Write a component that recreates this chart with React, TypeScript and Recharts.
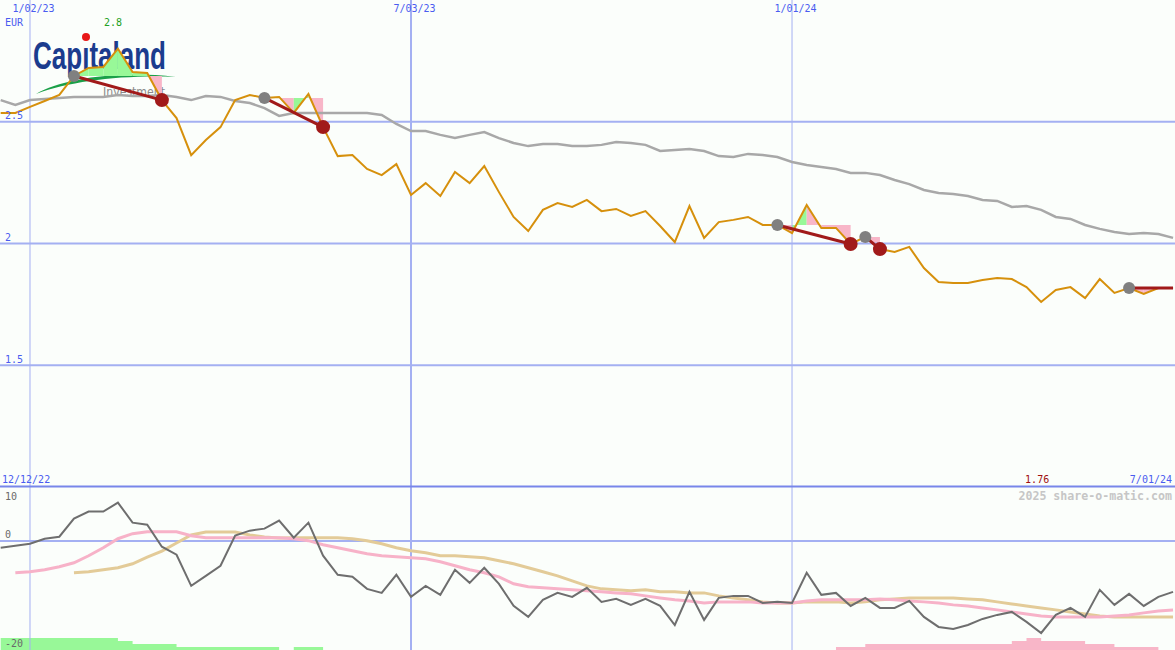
import React from 'react';
import { ComposedChart, Line, Area, XAxis, YAxis, ReferenceLine } from 'recharts';

// weekly closes (EUR), 12/19/22 .. 7/01/24
const startDate = '12/12/22';
const endDate = '7/01/24';
const currency = 'EUR';
const watermark = '2025 share-o-matic.com';

const dateTicks = [2, 28, 54];
const dateLabels = ['1/02/23', '7/03/23', '1/01/24'];
const priceTicks = [2.5, 2, 1.5];
const oscTicks = [10, 0, -20];

const price = [
  2.536, 2.536, 2.561, 2.585, 2.61, 2.688, 2.721, 2.725, 2.8, 2.704,
  2.7, 2.589, 2.515, 2.363, 2.425, 2.478, 2.589, 2.61, 2.598, 2.602,
  2.536, 2.614, 2.478, 2.359, 2.363, 2.306, 2.281, 2.326, 2.199, 2.248,
  2.195, 2.294, 2.248, 2.318, 2.211, 2.109, 2.051, 2.138, 2.166, 2.15,
  2.179, 2.133, 2.142, 2.113, 2.133, 2.072, 2.006, 2.154, 2.023, 2.088,
  2.097, 2.109, 2.076, 2.076, 2.043, 2.158, 2.064, 2.064, 1.998, 2.027,
  1.977, 1.965, 1.986, 1.899, 1.842, 1.838, 1.838, 1.85, 1.858, 1.854,
  1.821, 1.76, 1.809, 1.821, 1.776, 1.854, 1.797, 1.817, 1.793, 1.817,
  1.817,
];

const movingAvg = [
  2.589, 2.569, 2.589, 2.593, 2.598, 2.602, 2.602, 2.602, 2.61, 2.606,
  2.606, 2.61, 2.602, 2.589, 2.606, 2.602, 2.585, 2.577, 2.556, 2.524,
  2.536, 2.536, 2.536, 2.536, 2.536, 2.536, 2.528, 2.491, 2.462, 2.462,
  2.446, 2.433, 2.446, 2.458, 2.433, 2.413, 2.4, 2.409, 2.409, 2.4,
  2.4, 2.405, 2.417, 2.413, 2.405, 2.38, 2.384, 2.388, 2.38, 2.359,
  2.355, 2.368, 2.363, 2.355, 2.335, 2.322, 2.314, 2.306, 2.29, 2.29,
  2.281, 2.261, 2.244, 2.22, 2.207, 2.203, 2.195, 2.179, 2.175, 2.15,
  2.154, 2.138, 2.109, 2.101, 2.076, 2.06, 2.047, 2.039, 2.043, 2.039,
  2.023,
];

const momentum = [
  -1.23, -0.87, -0.5, 0.42, 0.79, 4.1, 5.39, 5.39, 7.05, 3.37,
  3.0, -1.05, -2.52, -8.23, -6.39, -4.55, 0.98, 1.9, 2.27, 3.74,
  0.61, 3.37, -2.7, -6.2, -6.57, -8.78, -9.52, -6.2, -10.25, -8.23,
  -9.88, -5.28, -7.68, -4.92, -7.86, -11.91, -13.93, -10.8, -9.52, -10.25,
  -8.6, -11.17, -10.62, -11.72, -10.62, -11.91, -15.41, -9.33, -14.48, -10.43,
  -10.07, -10.07, -11.36, -11.17, -11.36, -5.83, -9.88, -9.52, -11.91, -10.43,
  -12.28, -12.28, -10.99, -13.93, -15.77, -16.14, -15.41, -14.3, -13.56, -13.01,
  -14.85, -16.88, -13.56, -12.28, -13.93, -8.96, -11.72, -9.7, -11.91, -10.25,
  -9.33,
];

const fastAvg = [
  null, -5.83, -5.65, -5.28, -4.73, -4.0, -2.71, -1.23, 0.42, 1.34,
  1.71, 1.71, 1.71, 0.98, 0.61, 0.61, 0.61, 0.61, 0.61, 0.61,
  0.42, 0.06, -0.68, -1.23, -1.79, -2.34, -2.71, -2.89, -3.07, -3.26,
  -3.81, -4.55, -5.28, -5.83, -6.57, -7.86, -8.41, -8.6, -8.78, -8.96,
  -9.15, -9.33, -9.52, -9.7, -10.07, -10.44, -10.8, -10.99, -11.36, -11.17,
  -11.17, -11.17, -11.36, -11.36, -11.36, -10.99, -10.8, -10.8, -10.8, -10.8,
  -10.62, -10.8, -10.99, -11.17, -11.36, -11.72, -11.91, -12.28, -12.64, -13.01,
  -13.38, -13.75, -13.93, -13.93, -13.93, -13.93, -13.75, -13.56, -13.19, -12.83,
  -12.64,
];

const slowAvg = [
  null, null, null, null, null, -5.83, -5.65, -5.28, -4.91, -4.18,
  -2.94, -1.84, -0.37, 1.1, 1.65, 1.65, 1.65, 1.1, 0.73, 0.55,
  0.61, 0.61, 0.61, 0.61, 0.42, 0.06, -0.5, -1.23, -1.79, -2.16,
  -2.71, -2.71, -2.89, -3.07, -3.63, -4.18, -4.91, -5.65, -6.39, -7.31,
  -8.23, -8.78, -8.96, -9.15, -8.96, -9.33, -9.33, -9.52, -9.52, -10.07,
  -10.44, -10.8, -11.17, -11.36, -11.36, -11.17, -11.17, -11.17, -11.36, -11.17,
  -10.8, -10.62, -10.44, -10.44, -10.44, -10.44, -10.62, -10.8, -11.17, -11.54,
  -11.91, -12.28, -12.64, -13.01, -13.38, -13.75, -13.93, -13.93, -13.93, -13.93,
  -13.93,
];

// signal strength histograms
const bullBars = [
  4, 4, 4, 4, 4, 4, 4, 4, 3, 2,
  2, 2, 1, 1, 1, 1, 1, 1, 1, 0,
  1, 1, 0, 0, 0, 0, 0, 0, 0, 0,
  0, 0, 0, 0, 0, 0, 0, 0, 0, 0,
  0, 0, 0, 0, 0, 0, 0, 0, 0, 0,
  0, 0, 0, 0, 0, 0, 0, 0, 0, 0,
  0, 0, 0, 0, 0, 0, 0, 0, 0, 0,
  0, 0, 0, 0, 0, 0, 0, 0, 0, 0,
  0,
];
const bearBars = [
  0, 0, 0, 0, 0, 0, 0, 0, 0, 0,
  0, 0, 0, 0, 0, 0, 0, 0, 0, 0,
  0, 0, 0, 0, 0, 0, 0, 0, 0, 0,
  0, 0, 0, 0, 0, 0, 0, 0, 0, 0,
  0, 0, 0, 0, 0, 0, 0, 0, 0, 0,
  0, 0, 0, 0, 0, 0, 0, 1, 1, 2,
  2, 2, 2, 2, 2, 2, 2, 2, 2, 3,
  4, 3, 3, 3, 2, 2, 1, 1, 1, 0,
  0,
];

// trade signals (week index of entry / exit)
const trades = [
  { entry: 5, exit: 11, open: false },
  { entry: 18, exit: 22, open: false },
  { entry: 53, exit: 58, open: false },
  { entry: 59, exit: 60, open: false },
  { entry: 77, exit: 80, open: true },
];

const X_DOMAIN: [number, number] = [-0.047, 80.134];
const MONO = "'DejaVu Sans Mono', monospace";
const BLUE_TEXT = '#4a5cf0';
const GRID = '#a4b0f2';
const GAIN = '#98f898';
const LOSS = '#f8b6c8';
const TRADE = '#a11a1a';

type Seg = { key: string; from: number; to: number; level: number; up: boolean };
const segments: Seg[] = [];
trades.forEach((t, ti) => {
  const level = price[t.entry];
  for (let j = t.entry; j < t.exit; j++) {
    segments.push({ key: `f${ti}_${j}`, from: j, to: j + 1, level, up: price[j + 1] > level });
  }
});

const rows = price.map((p, i) => {
  const r: Record<string, any> = {
    i,
    price: p,
    avg: movingAvg[i],
    mom: momentum[i],
    fast: fastAvg[i],
    slow: slowAvg[i],
    bull: bullBars[i],
    bear: bearBars[i],
  };
  segments.forEach((s) => {
    r[s.key] = i === s.from || i === s.to ? [s.level, p] : null;
  });
  trades.forEach((t, ti) => {
    r[`t${ti}`] = i === t.entry ? price[t.entry] : i === t.exit ? price[t.exit] : null;
  });
  return r;
});

const hiIdx = price.indexOf(Math.max(...price));
const loIdx = price.indexOf(Math.min(...price));
const fmt = (v: number) => String(Number(v.toFixed(2)));

function DateTick(props: any) {
  const { x, payload } = props;
  const label = dateLabels[dateTicks.indexOf(payload.value)];
  return (
    <text x={x + 3.5} y={12} textAnchor="middle" fontFamily={MONO} fontSize={10} fill={BLUE_TEXT}>
      {label}
    </text>
  );
}

function PriceTick(props: any) {
  const { y, payload } = props;
  return (
    <text x={5} y={y - 2.5} fontFamily={MONO} fontSize={10} fill={BLUE_TEXT}>
      {String(payload.value)}
    </text>
  );
}

function OscTick(props: any) {
  const { y, payload } = props;
  const dy = payload.value === oscTicks[0] ? 13 : -3.5;
  return (
    <text x={5} y={y + dy} fontFamily={MONO} fontSize={10} fill="#6a6a6a">
      {String(payload.value)}
    </text>
  );
}

function tradeDot(t: { entry: number; exit: number; open: boolean }) {
  return (p: any) => {
    const { cx, cy, index } = p;
    if (cx == null || cy == null) return <g key={`n${index}`} />;
    if (index === t.entry) return <circle key={`e${index}`} cx={cx} cy={cy} r={6} fill="#808080" />;
    if (index === t.exit && !t.open) return <circle key={`x${index}`} cx={cx} cy={cy} r={7} fill={TRADE} />;
    return <g key={`n${index}`} />;
  };
}

function Logo() {
  return (
    <svg width={1175} height={487} style={{ position: 'absolute', left: 0, top: 0 }}>
      <path d="M36,94 C62,79 118,70 176,77 C120,75 72,81 36,94 Z" fill="#1aa048" />
      <text
        x={33}
        y={69}
        fontFamily="'Liberation Sans Narrow', 'Liberation Sans', sans-serif"
        fontWeight="bold"
        fontSize={38}
        fill="#1b3c8e"
        textLength={133}
        lengthAdjust="spacingAndGlyphs"
      >
        Capıtaland
      </text>
      <circle cx={86} cy={37} r={4} fill="#e81818" />
      <text x={103} y={96} fontFamily="'DejaVu Sans', sans-serif" fontSize={13} fill="#8a8a8a" textLength={62} lengthAdjust="spacingAndGlyphs">
        Investment
      </text>
    </svg>
  );
}

export default function App() {
  return (
    <div style={{ position: 'relative', width: 1175, height: 650, background: '#fbfefb', overflow: 'hidden' }}>
      <style>{'body{margin:0}'}</style>
      <Logo />
      <div style={{ position: 'absolute', left: 0, top: 0 }}>
        <ComposedChart width={1175} height={487} data={rows} margin={{ top: 0, right: 0, bottom: 0, left: 0 }}>
          <XAxis
            type="number"
            dataKey="i"
            domain={X_DOMAIN}
            allowDataOverflow
            orientation="top"
            mirror
            ticks={dateTicks}
            interval={0}
            axisLine={false}
            tickLine={false}
            tick={DateTick}
          />
          <YAxis
            type="number"
            domain={[1, 3]}
            allowDataOverflow
            mirror
            ticks={priceTicks}
            interval={0}
            axisLine={false}
            tickLine={false}
            tick={PriceTick}
          />
          {dateTicks.map((d, k) => (
            <ReferenceLine key={`v${d}`} x={d} stroke={GRID} strokeWidth={k === 1 ? 2 : 1} />
          ))}
          {priceTicks.map((v) => (
            <ReferenceLine key={`h${v}`} y={v} stroke={GRID} strokeWidth={2} />
          ))}
          <Line dataKey="avg" type="linear" stroke="#a8a8a8" strokeWidth={2.5} dot={false} activeDot={false} isAnimationActive={false} />
          {segments.map((s) => (
            <Area
              key={s.key}
              dataKey={s.key}
              type="linear"
              stroke="none"
              fill={s.up ? GAIN : LOSS}
              fillOpacity={1}
              dot={false}
              activeDot={false}
              isAnimationActive={false}
            />
          ))}
          <Line dataKey="price" type="linear" stroke="#d6900c" strokeWidth={2} dot={false} activeDot={false} isAnimationActive={false} />
          {trades.map((t, ti) => (
            <Line
              key={`t${ti}`}
              dataKey={`t${ti}`}
              type="linear"
              connectNulls
              stroke={TRADE}
              strokeWidth={3}
              dot={tradeDot(t)}
              activeDot={false}
              isAnimationActive={false}
            />
          ))}
          <ReferenceLine
            x={hiIdx}
            stroke="none"
            label={(p: any) => (
              <text x={p.viewBox.x - 5} y={26} textAnchor="middle" fontFamily={MONO} fontSize={10} fill="#22a022">
                {fmt(price[hiIdx])}
              </text>
            )}
          />
          <ReferenceLine
            x={loIdx}
            stroke="none"
            label={(p: any) => (
              <text x={p.viewBox.x - 4} y={483} textAnchor="middle" fontFamily={MONO} fontSize={10} fill="#a01010">
                {fmt(price[loIdx])}
              </text>
            )}
          />
        </ComposedChart>
      </div>
      <div style={{ position: 'absolute', left: 0, top: 484 }}>
        <ComposedChart width={1175} height={166} data={rows} margin={{ top: 2.5, right: 0, bottom: 0, left: 0 }}>
          <XAxis type="number" dataKey="i" domain={X_DOMAIN} allowDataOverflow hide />
          <YAxis
            yAxisId="osc"
            type="number"
            domain={[-20, 10]}
            allowDataOverflow
            mirror
            ticks={oscTicks}
            interval={0}
            axisLine={false}
            tickLine={false}
            tick={OscTick}
          />
          <YAxis yAxisId="sig" type="number" domain={[0, 54.5]} allowDataOverflow hide />
          <Area yAxisId="sig" dataKey="bull" type="stepAfter" stroke="none" fill={GAIN} fillOpacity={1} dot={false} activeDot={false} isAnimationActive={false} />
          <Area yAxisId="sig" dataKey="bear" type="stepAfter" stroke="none" fill={LOSS} fillOpacity={1} dot={false} activeDot={false} isAnimationActive={false} />
          {dateTicks.map((d, k) => (
            <ReferenceLine key={`bv${d}`} yAxisId="osc" x={d} stroke={GRID} strokeWidth={k === 1 ? 2 : 1} />
          ))}
          <ReferenceLine yAxisId="osc" y={0} stroke={GRID} strokeWidth={2} />
          <ReferenceLine yAxisId="osc" y={10} stroke="#7886ea" strokeWidth={2} />
          <Line yAxisId="osc" dataKey="slow" type="linear" stroke="#e3cb98" strokeWidth={3} dot={false} activeDot={false} isAnimationActive={false} />
          <Line yAxisId="osc" dataKey="fast" type="linear" stroke="#f7b2c8" strokeWidth={3} dot={false} activeDot={false} isAnimationActive={false} />
          <Line yAxisId="osc" dataKey="mom" type="linear" stroke="#6e6e6e" strokeWidth={2} dot={false} activeDot={false} isAnimationActive={false} />
        </ComposedChart>
      </div>
      <svg width={1175} height={650} style={{ position: 'absolute', left: 0, top: 0, pointerEvents: 'none' }}>
        <g fontFamily={MONO} fontSize={10} fill={BLUE_TEXT}>
          <text x={5} y={26}>{currency}</text>
          <text x={2} y={483}>{startDate}</text>
          <text x={1172} y={483} textAnchor="end">{endDate}</text>
        </g>
        <text x={1172} y={500} textAnchor="end" fontFamily={MONO} fontSize={11.6} fontWeight="bold" fill="#c6c6c6">
          {watermark}
        </text>
      </svg>
    </div>
  );
}
